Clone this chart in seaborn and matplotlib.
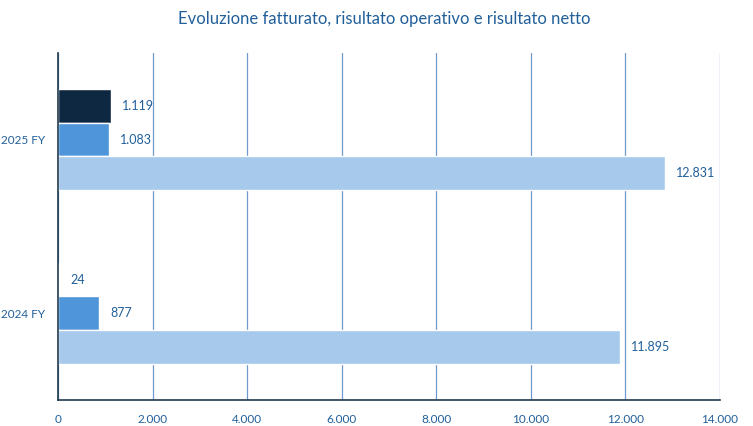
import matplotlib
matplotlib.use("Agg")
import matplotlib.pyplot as plt
import seaborn as sns
import pandas as pd

# data
anni = ["2025 FY", "2024 FY"]
fatturato = [12831, 11895]
risultato_operativo = [1083, 877]
risultato_netto = [1119, 24]
serie = ["Risultato netto", "Risultato operativo", "Fatturato"]
colori = ["#0E2841", "#4E95D9", "#A6C9EC"]
xticks = [0, 2000, 4000, 6000, 8000, 10000, 12000, 14000]

testo = "#215F9A"

sns.set_style("white")
plt.rcParams["font.family"] = ["Lato", "DejaVu Sans"]

df = pd.DataFrame({
    "anno": anni * 3,
    "serie": ["Risultato netto"] * 2 + ["Risultato operativo"] * 2 + ["Fatturato"] * 2,
    "valore": risultato_netto + risultato_operativo + fatturato,
})

fig = plt.figure(figsize=(7.53, 4.26), dpi=100)
ax = fig.add_axes([0.077, 0.061, 0.879, 0.815])

sns.barplot(data=df, y="anno", x="valore", hue="serie", order=anni,
            hue_order=serie, palette=colori, saturation=1, width=0.58,
            orient="h", edgecolor="white", linewidth=1, ax=ax, legend=False)

for cont in ax.containers:
    labels = [f"{int(v):,}".replace(",", ".") for v in cont.datavalues]
    ax.bar_label(cont, labels=labels, padding=8, color=testo, fontsize=9)

ax.set_xlim(0, 14000)
ax.set_ylim(1.5, -0.5)
ax.set_xticks(xticks)
ax.set_xticklabels([f"{t:,}".replace(",", ".") for t in xticks])
ax.xaxis.grid(True, color="#6E9BCB", linewidth=0.9)
ax.set_axisbelow(True)
ax.tick_params(axis="both", length=0, colors=testo, labelsize=8.5)
ax.tick_params(axis="x", pad=10)
ax.tick_params(axis="y", pad=9)
ax.set_xlabel("")
ax.set_ylabel("")
for s in ["top", "right"]:
    ax.spines[s].set_visible(False)
for s in ["left", "bottom"]:
    ax.spines[s].set_color("#1F3A4D")
    ax.spines[s].set_linewidth(1.2)

fig.suptitle("Evoluzione fatturato, risultato operativo e risultato netto",
             x=0.51, y=0.975, fontsize=12, color=testo)

fig.savefig("out.png", dpi=100)
